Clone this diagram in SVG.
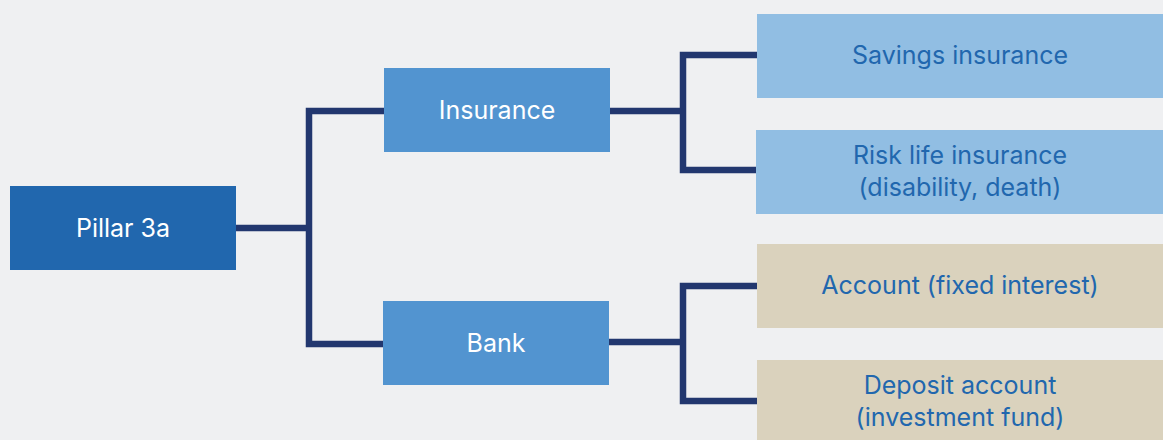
<svg xmlns="http://www.w3.org/2000/svg" width="1163" height="440" viewBox="0 0 1163 440">
<style>
text{font-family:Inter,"Liberation Sans",sans-serif;font-size:25px;text-anchor:middle}
.w{fill:#ffffff}
.b{fill:#2167ae}
.line{fill:none;stroke:#22376f;stroke-width:6.5;stroke-linejoin:miter;stroke-linecap:butt}
</style>
<rect width="1163" height="440" fill="#eff0f2"/>
<g id="connectors">
<path class="line" d="M236 228 H309 M384 111 H309 V344 H384"/>
<path class="line" d="M610 111 H683 M757 55 H683 V170 H757"/>
<path class="line" d="M609 342 H683 M757 286 H683 V401 H757"/>
</g>
<g id="pillar3a">
<rect x="10" y="186" width="226" height="84" fill="#2167ae"/>
<text class="w" x="123" y="237">Pillar 3a</text>
</g>
<g id="insurance">
<rect x="384" y="68" width="226" height="84" fill="#5294d0"/>
<text class="w" x="497" y="119">Insurance</text>
</g>
<g id="bank">
<rect x="383" y="301" width="226" height="84" fill="#5294d0"/>
<text class="w" x="496" y="352">Bank</text>
</g>
<g id="savings">
<rect x="757" y="14" width="406" height="84" fill="#91bee3"/>
<text class="b" x="960" y="64">Savings insurance</text>
</g>
<g id="risk">
<rect x="756" y="130" width="407" height="84" fill="#91bee3"/>
<text class="b" x="960" y="164">Risk life insurance</text>
<text class="b" x="960" y="196">(disability, death)</text>
</g>
<g id="account">
<rect x="757" y="244" width="406" height="84" fill="#dad2bd"/>
<text class="b" x="960" y="294">Account (fixed interest)</text>
</g>
<g id="deposit">
<rect x="757" y="360" width="406" height="84" fill="#dad2bd"/>
<text class="b" x="960" y="394">Deposit account</text>
<text class="b" x="960" y="426">(investment fund)</text>
</g>
</svg>
